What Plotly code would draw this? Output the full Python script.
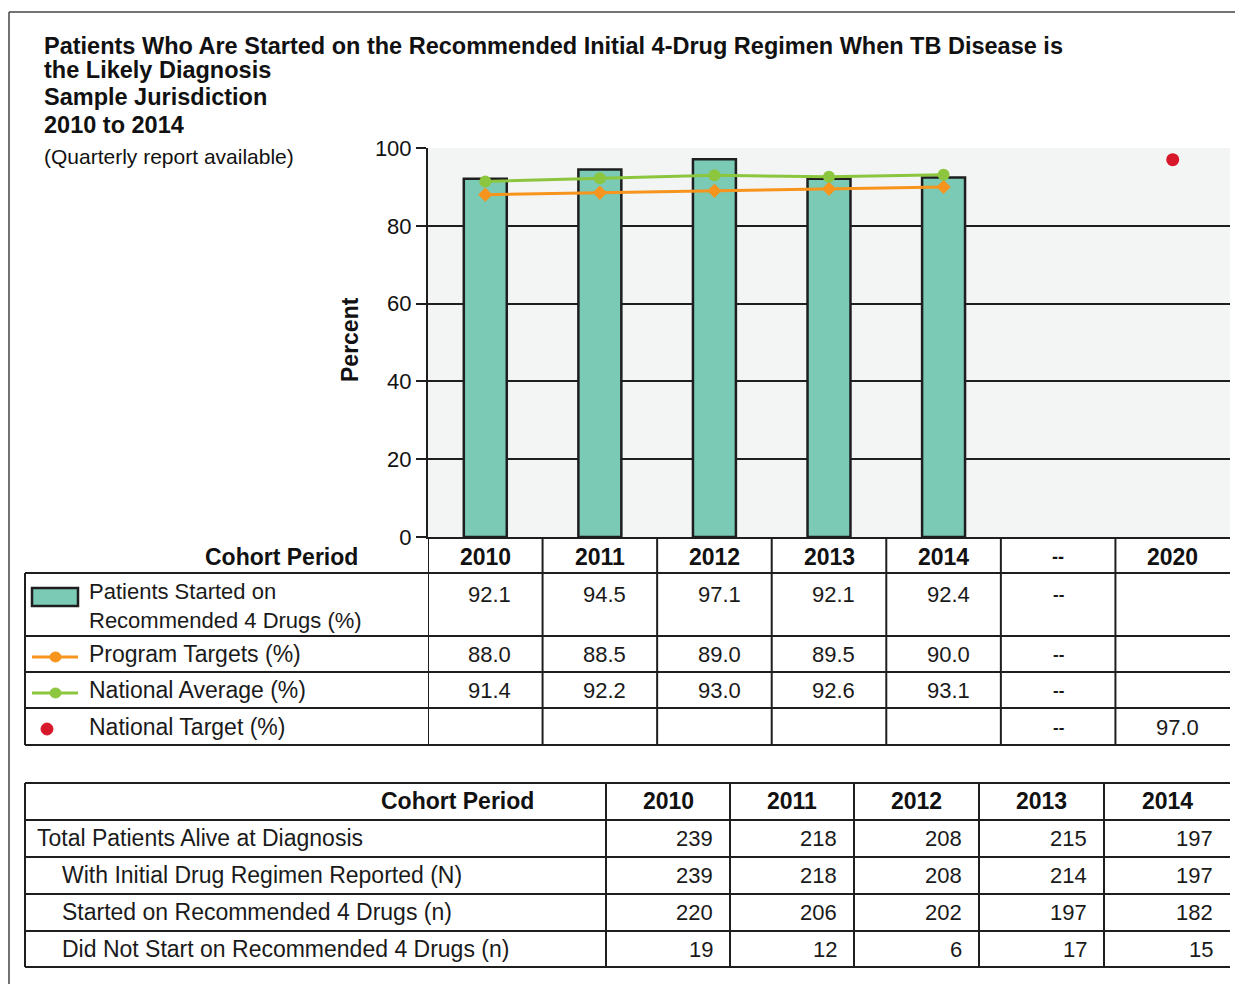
import plotly.graph_objects as go

# ---------------- data ----------------
categories = ["2010", "2011", "2012", "2013", "2014", "--", "2020"]
years = ["2010", "2011", "2012", "2013", "2014"]
pct_started = [92.1, 94.5, 97.1, 92.1, 92.4]
program_targets = [88.0, 88.5, 89.0, 89.5, 90.0]
national_average = [91.4, 92.2, 93.0, 92.6, 93.1]
national_target_year = ["2020"]
national_target = [97.0]

row_labels_1 = ["Patients Started on<br>Recommended 4 Drugs (%)", "Program Targets (%)",
                "National Average (%)", "National Target (%)"]

row_labels_2 = ["Total Patients Alive at Diagnosis", "With Initial Drug Regimen Reported (N)",
                "Started on Recommended 4 Drugs (n)", "Did Not Start on Recommended 4 Drugs (n)"]
total_alive = [239, 218, 208, 215, 197]
with_regimen = [239, 218, 208, 214, 197]
started_4 = [220, 206, 202, 197, 182]
not_started = [19, 12, 6, 17, 15]

y_ticks = [0, 20, 40, 60, 80, 100]

# ---------------- layout helpers (reference-page pixel coordinates) ----------------
PAGE_W, PAGE_H = 1243, 984
OFF = 8  # browser body margin
L, R, T, B = 428, 1230, 148, 537
FONT = "Liberation Sans, Arial, sans-serif"
TEAL = "#7acab6"
ORANGE = "#f7941d"
GREEN = "#8cc63f"
RED = "#d7182a"
LINE = "#1e1e1e"
TXT = "#1a1a1a"


def px(x):
    return (x - L) / (R - L)


def py(y):
    return (B - y) / (B - T)


def ci(c):
    return categories.index(c)


fig = go.Figure()

fig.add_trace(go.Bar(x=years, y=pct_started, width=0.375, marker=dict(color=TEAL, line=dict(color=LINE, width=2.5)),
                     name="Patients Started on Recommended 4 Drugs (%)"))
fig.add_trace(go.Scatter(x=years, y=program_targets, mode="lines+markers", line=dict(color=ORANGE, width=3),
                         marker=dict(color=ORANGE, size=11, symbol="diamond"), name="Program Targets (%)"))
fig.add_trace(go.Scatter(x=years, y=national_average, mode="lines+markers", line=dict(color=GREEN, width=3),
                         marker=dict(color=GREEN, size=12, symbol="circle"), name="National Average (%)"))
fig.add_trace(go.Scatter(x=national_target_year, y=national_target, mode="markers",
                         marker=dict(color=RED, size=13), name="National Target (%)"))

shapes = []
annotations = []


def text(t, x, y, size=23, xanchor="left", xref="paper", color=TXT, **kw):
    annotations.append(dict(text=t, xref=xref, yref="paper", x=px(x) if xref == "paper" else x, y=py(y),
                            xanchor=xanchor, yanchor="middle", showarrow=False,
                            font=dict(family=FONT, size=size, color=color), **kw))


def hline(y, x0, x1, width=2, color=LINE):
    shapes.append(dict(type="line", xref="paper", yref="paper", x0=px(x0), x1=px(x1), y0=py(y), y1=py(y),
                       line=dict(color=color, width=width)))


def vline(x, y0, y1, width=2, color=LINE):
    shapes.append(dict(type="line", xref="paper", yref="paper", x0=px(x), x1=px(x), y0=py(y0), y1=py(y1),
                       line=dict(color=color, width=width)))


# outer frame
hline(12, 9, 1300, width=1.5, color="#444")
vline(9, 12, 1000, width=1.5, color="#444")

# Title block
for t, yy in [("Patients Who Are Started on the Recommended Initial 4-Drug Regimen When TB Disease is", 46),
              ("the Likely Diagnosis", 70), ("Sample Jurisdiction", 97), ("2010 to 2014", 125)]:
    text("<b>" + t + "</b>", 42, yy, size=23.5, color="#111")
text("(Quarterly report available)", 42, 156, size=21, color="#111")
text("<b>Percent</b>", 350, 340, size=23, xanchor="center", color="#111", textangle=-90)

# ---------------- Table 1 (aligned with the chart columns) ----------------
for yy in [573, 636, 672, 708, 745]:
    hline(yy, 25, 1230)
vline(25, 573, 745)
for i in range(len(categories)):
    shapes.append(dict(type="line", xref="x", yref="paper", x0=i - 0.5, x1=i - 0.5, y0=py(537), y1=py(745),
                       line=dict(color=LINE, width=2)))

text("<b>Cohort Period</b>", 360, 557, xanchor="right", color="#111")
for c in categories:
    text("<b>" + c + "</b>", ci(c), 557, xanchor="center", xref="x", color="#111",
         size=23 if c != "--" else 18)

for lab, yy in zip(row_labels_1, [605.5, 654, 690, 727]):
    text(lab, 87, yy, size=22 if "<br>" in lab else 23, align="left")

for vals, yy in [(pct_started, 594), (program_targets, 654), (national_average, 690)]:
    for c, v in zip(years, vals):
        text(f"{v:.1f}", ci(c) + 0.04, yy, size=22, xanchor="center", xref="x")
for yy in [594, 654, 690, 727]:
    text("<b>--</b>", ci("--"), yy, size=17, xanchor="center", xref="x")
for c, v in zip(national_target_year, national_target):
    text(f"{v:.1f}", ci(c) + 0.04, 727, size=22, xanchor="center", xref="x")

# legend symbols
shapes.append(dict(type="rect", xref="paper", yref="paper", x0=px(32), x1=px(78), y0=py(588), y1=py(606),
                   fillcolor=TEAL, line=dict(color=LINE, width=2.5)))
for col, yy in [(ORANGE, 657), (GREEN, 693)]:
    hline(yy, 32, 78, width=3, color=col)
    shapes.append(dict(type="circle", xref="paper", yref="paper", x0=px(50), x1=px(61), y0=py(yy - 5),
                       y1=py(yy + 5), fillcolor=col, line=dict(color=col, width=1)))
shapes.append(dict(type="circle", xref="paper", yref="paper", x0=px(41), x1=px(53), y0=py(723), y1=py(735),
                   fillcolor=RED, line=dict(color=RED, width=1)))

# ---------------- Table 2 ----------------
t2_v = [25, 606, 730, 854, 979, 1104]
for yy in [783, 820, 857, 894, 931, 967]:
    hline(yy, 25, 1230)
for xx in t2_v:
    vline(xx, 783, 967)
text("<b>Cohort Period</b>", 536, 801, xanchor="right", color="#111")
col_edges = t2_v[1:] + [1230]
for j, yr in enumerate(years):
    text("<b>" + yr + "</b>", (col_edges[j] + col_edges[j + 1]) / 2, 801, xanchor="center", color="#111")
t2_rows = [total_alive, with_regimen, started_4, not_started]
for k, (lab, vals, yy) in enumerate(zip(row_labels_2, t2_rows, [838, 875, 912, 949])):
    text(lab, 35 if k == 0 else 60, yy)
    for j, v in enumerate(vals):
        text(str(v), col_edges[j + 1] - 15, yy, size=22, xanchor="right")

fig.update_layout(
    width=PAGE_W - OFF, height=PAGE_H - OFF,
    margin=dict(l=L - OFF, r=PAGE_W - R, t=T - OFF, b=PAGE_H - B),
    paper_bgcolor="white", plot_bgcolor="#f3f5f5",
    showlegend=False,
    shapes=shapes, annotations=annotations,
    font=dict(family=FONT, color="#111"),
)
fig.update_xaxes(type="category", categoryorder="array", categoryarray=categories, range=[-0.5, 6.5],
                 showticklabels=False, ticks="", showgrid=False, showline=True, linecolor=LINE, linewidth=2,
                 fixedrange=True)
fig.update_yaxes(range=[0, 100], tickvals=y_ticks, ticks="outside", ticklen=10, tickwidth=1.5, tickcolor=LINE,
                 showgrid=True, gridcolor=LINE, gridwidth=2, showline=True, linecolor=LINE, linewidth=2,
                 zeroline=False, tickfont=dict(family=FONT, size=22, color="#111"), fixedrange=True)

fig.write_html("out.html")
